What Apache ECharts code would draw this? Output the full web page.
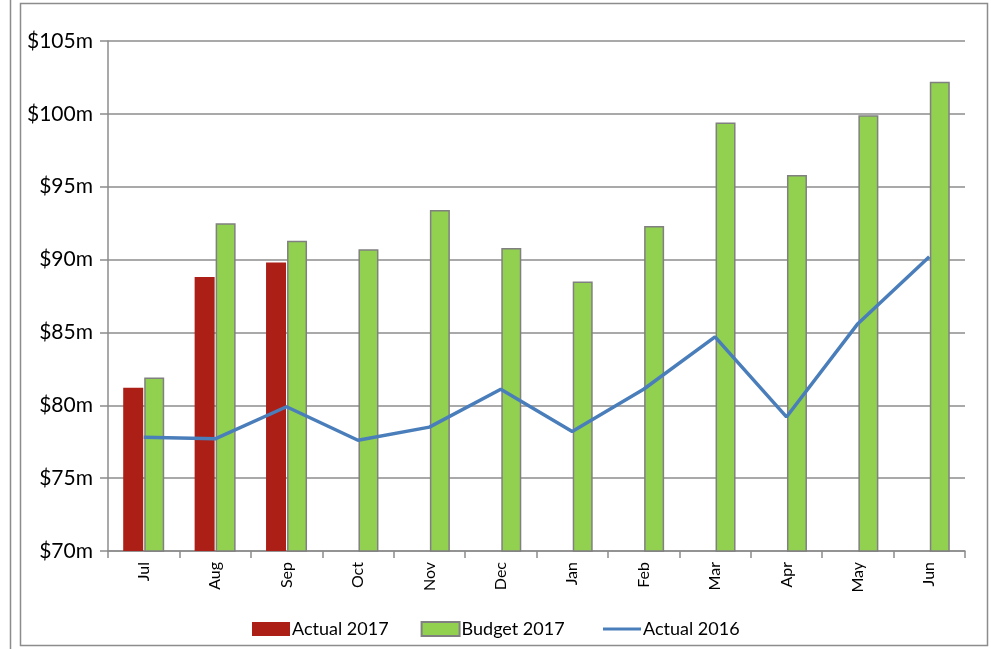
<!DOCTYPE html>
<html><head><meta charset="utf-8">
<script src="https://cdn.jsdelivr.net/npm/echarts@6/dist/echarts.min.js"></script>
<style>html,body{margin:0;padding:0;background:#fff}#c{width:991px;height:649px}</style>
</head><body><div id="c"></div>
<script>
const categories = ['Jul','Aug','Sep','Oct','Nov','Dec','Jan','Feb','Mar','Apr','May','Jun'];
const actual2017 = [81.2, 88.8, 89.8, 0, 0, 0, 0, 0, 0, 0, 0, 0];
const budget2017 = [81.9, 92.5, 91.3, 90.7, 93.4, 90.8, 88.5, 92.3, 99.4, 95.8, 99.9, 102.2];
const actual2016 = [77.8, 77.7, 79.9, 77.6, 78.5, 81.1, 78.2, 81.1, 84.7, 79.2, 85.6, 90.2];
const yTicks = [70, 75, 80, 85, 90, 95, 100, 105];

const FONT = 'Lato';
const chart = echarts.init(document.getElementById('c'));
chart.setOption({
  animation: false,
  textStyle: {fontFamily: FONT},
  graphic: [
    {type:'rect', shape:{x:20.5,y:3.5,width:967,height:642}, style:{fill:null, stroke:'#8c8c8c', lineWidth:1.5}, silent:true},
    {type:'line', shape:{x1:10.5,y1:0,x2:10.5,y2:649}, style:{stroke:'#8c8c8c', lineWidth:1.5}, silent:true}
  ],
  grid: {left:108, right:26, top:41, bottom:98, containLabel:false},
  legend: [{
    top: 615, left: 247, itemGap: 32, itemWidth: 38, itemHeight: 14,
    textStyle: {fontFamily: FONT, fontSize: 18, color:'#000', padding:[0,0,0,-3]},
    data: [
      {name:'Actual 2017', icon:'rect'},
      {name:'Budget 2017', icon:'rect'}
    ]
  },{
    top: 615, left: 598, itemWidth: 38, itemHeight: 14,
    textStyle: {fontFamily: FONT, fontSize: 18, color:'#000', padding:[0,0,0,-3]},
    data: [{name:'Actual 2016', icon:'path://M0,0 M0,5.5 L38,5.5 L38,8.5 L0,8.5 Z M0,14'}],
    itemStyle: {color:'#4a7ebb', borderWidth:0}
  }],
  xAxis: {
    type: 'category', data: categories,
    axisLine: {lineStyle:{color:'#8c8c8c', width:1.5}},
    axisTick: {show:true, length:7, lineStyle:{color:'#8c8c8c', width:1.5}},
    axisLabel: {rotate: 90, fontSize: 16, color:'#000', margin: 11, fontFamily: FONT}
  },
  yAxis: {
    type: 'value', min: 70, max: 105, interval: 5,
    axisLine: {show:true, lineStyle:{color:'#8c8c8c', width:1.5}},
    axisTick: {show:true, length:8, lineStyle:{color:'#8c8c8c', width:1.5}},
    splitLine: {lineStyle:{color:'#8c8c8c', width:1.5}},
    axisLabel: {fontSize: 21, color:'#000', margin: 15, fontFamily: FONT,
      formatter: v => yTicks.includes(v) ? '$' + v + 'm' : ''}
  },
  series: [
    {name:'Actual 2017', type:'bar', data: actual2017, barWidth: 20, barGap:'5%',
      itemStyle:{color:'#ab1f16'}},
    {name:'Budget 2017', type:'bar', data: budget2017, barWidth: 20,
      itemStyle:{color:'#92d050', borderColor:'#808080', borderWidth:1.5}},
    {name:'Actual 2016', type:'line', data: actual2016, symbol:'none',
      lineStyle:{color:'#4a7ebb', width:3.5}, itemStyle:{color:'#4a7ebb'}, z:5}
  ]
});
</script></body></html>
